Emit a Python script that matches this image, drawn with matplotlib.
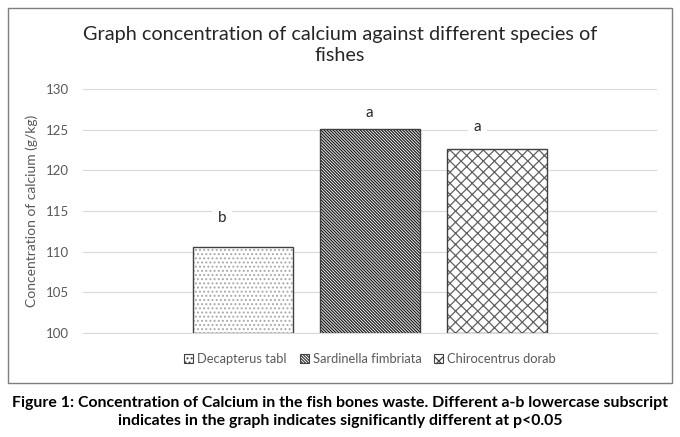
import numpy as np
import matplotlib
matplotlib.use('Agg')
from matplotlib import pyplot as plt
from matplotlib.patches import Rectangle

# data
species = ['Decapterus tabl', 'Sardinella fimbriata', 'Chirocentrus dorab']
calcium = [110.6, 125.1, 122.6]
letters = ['b', 'a', 'a']
hatches = ['....', '\\' * 11, 'xxx']
hatch_cols = ['#a8a8a8', '#1a1a1a', '#606060']
yticks = [100, 105, 110, 115, 120, 125, 130]

plt.rcParams['font.family'] = ['Lato', 'DejaVu Sans']
plt.rcParams['hatch.linewidth'] = 0.9

fig = plt.figure(figsize=(6.8, 4.37), dpi=100)
fig.patch.set_facecolor('white')

# chart frame like Excel
fig.patches.append(Rectangle((8/680, 1-383/437), 664/680, 375/437, transform=fig.transFigure,
                             fill=False, edgecolor='#7f7f7f', linewidth=1.0))

ax = fig.add_axes([83/680, 104/437, 574/680, 244/437])
x = np.arange(len(species)) * 1.26
for i in range(len(species)):
    # hatch drawn in its own colour, outline drawn on top
    ax.bar(x[i], calcium[i] - 100, bottom=100, width=1.0, color='white', edgecolor=hatch_cols[i],
           hatch=hatches[i], linewidth=0, label=species[i], zorder=3)
    ax.bar(x[i], calcium[i] - 100, bottom=100, width=1.0, fill=False, edgecolor='#404040',
           linewidth=1.0, zorder=3.5)
# letter labels (slightly offset like in the original)
offs = [(-0.21, 3.5), (-0.01, 2.0), (-0.19, 2.7)]
for i in range(len(species)):
    ax.text(x[i] + offs[i][0], calcium[i] + offs[i][1], letters[i], ha='center', va='center',
            fontsize=11, color='#262626', zorder=4,
            bbox=dict(facecolor='white', edgecolor='none', pad=4))

ax.set_xlim(x[0] - 1.59, x[2] + 1.59)
ax.set_ylim(100, 130)
ax.set_yticks(yticks)
ax.set_xticks([])
ax.tick_params(axis='y', length=0, labelsize=9.5, labelcolor='#595959', pad=10)
ax.grid(axis='y', color='#d9d9d9', linewidth=0.8, zorder=0)
for s in ['top', 'right', 'left']:
    ax.spines[s].set_visible(False)
ax.spines['bottom'].set_color('#d9d9d9')
ax.set_ylabel('Concentration of calcium (g/kg)', fontsize=10, color='#595959', labelpad=6)

fig.text(0.5, 1 - 45/437, 'Graph concentration of calcium against different species of\nfishes',
         ha='center', va='center', fontsize=14.3, color='#262626', linespacing=1.35)

leg = ax.legend(loc='upper center', bbox_to_anchor=(0.5, -0.035), ncol=3, frameon=False,
                fontsize=9.3, labelcolor='#595959', handlelength=0.7, handleheight=0.7,
                handletextpad=0.3, columnspacing=1.0)
for h in leg.legend_handles:
    h.set_linewidth(0.8)
    h.set_edgecolor('#404040')

fig.text(0.5, 1 - 412/437,
         'Figure 1: Concentration of Calcium in the fish bones waste. Different a-b lowercase subscript\n'
         'indicates in the graph indicates significantly different at p<0.05',
         ha='center', va='center', fontsize=11.4, fontweight='bold', color='black', linespacing=1.3)

fig.savefig('out.png', dpi=100)
